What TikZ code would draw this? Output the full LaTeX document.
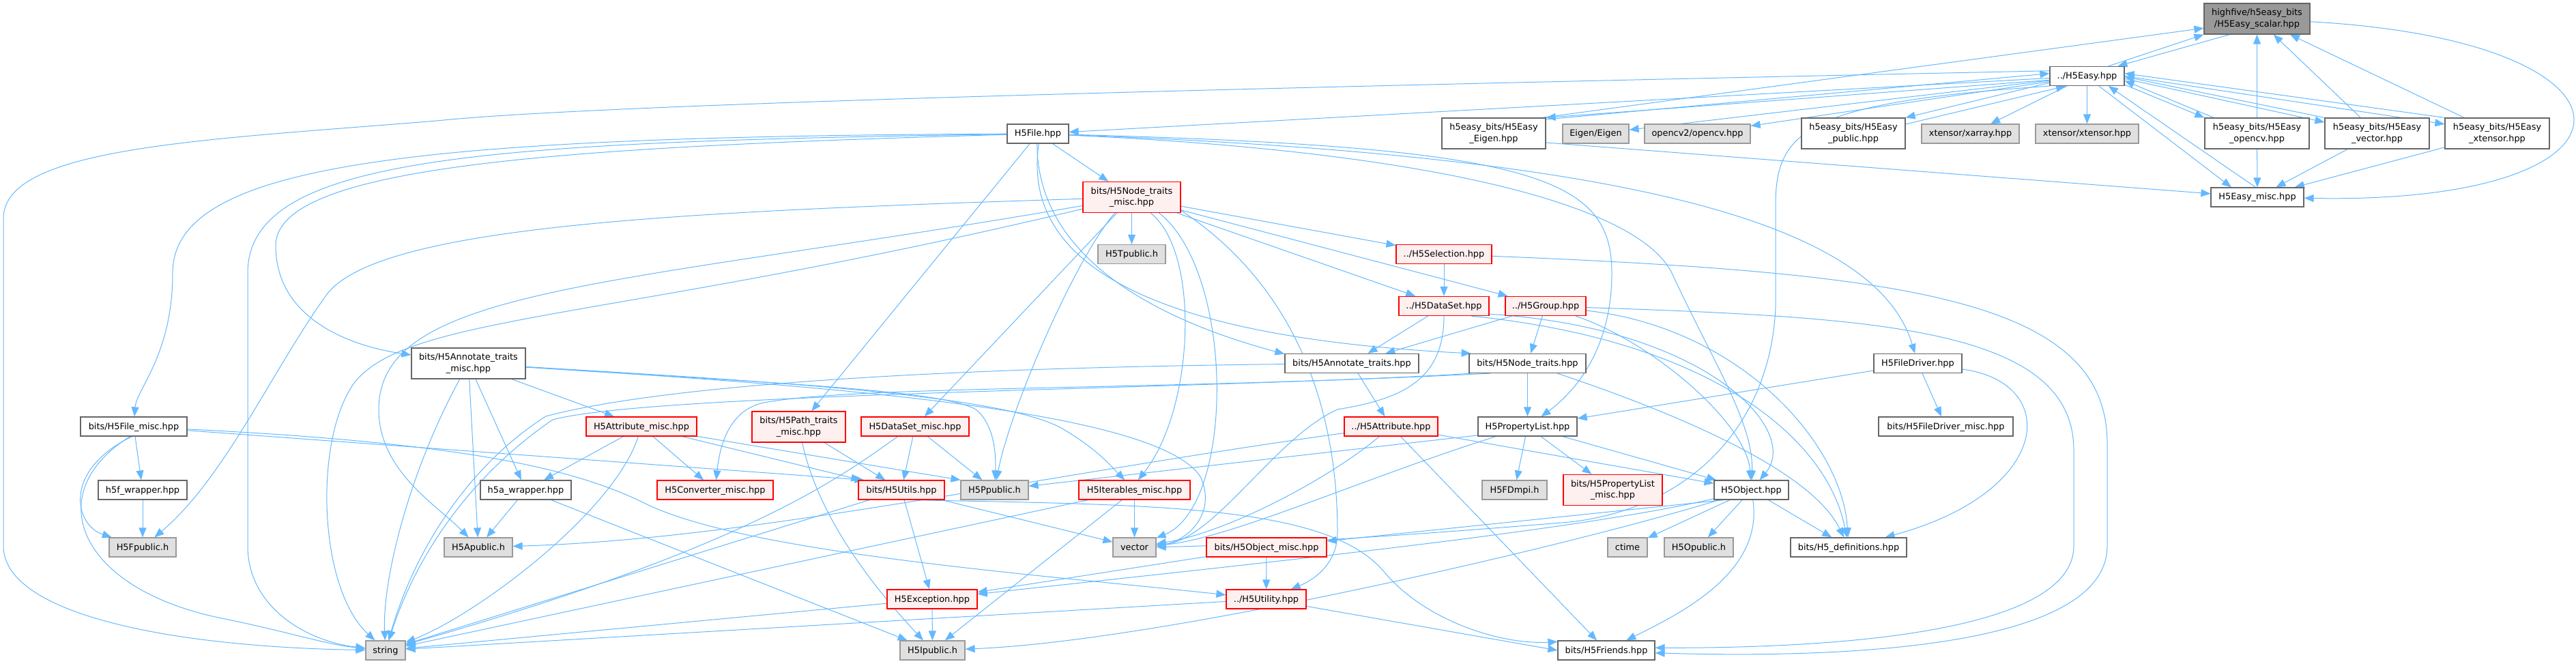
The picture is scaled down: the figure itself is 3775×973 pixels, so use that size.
\documentclass[tikz,border=0pt]{standalone}
\usepackage{fontspec}
\setmainfont{DejaVu Sans}
\usepackage{xcolor}
\usetikzlibrary{arrows.meta,backgrounds}
\definecolor{edgeblue}{HTML}{63B8FF}
\definecolor{grey40}{HTML}{666666}
\definecolor{grey60}{HTML}{999999}
\definecolor{truncfill}{HTML}{FFF0F0}
\definecolor{extfill}{HTML}{E0E0E0}

\begin{document}
\begin{tikzpicture}[x=1pt,y=-1pt,
  filebox/.style={draw=grey40,fill=white,line width=1.2pt,inner sep=0pt,minimum height=28pt,
    font=\fontsize{12.9pt}{16.7pt}\selectfont,text height=10.5pt,text depth=2.5pt},
  twoline/.style={align=center,minimum height=45pt,text height=,text depth=},
  truncbox/.style={filebox,draw=red,fill=truncfill},
  extbox/.style={filebox,draw=grey60,fill=extfill},
  rootbox/.style={filebox,draw=grey40,fill=grey60},
  wd/.style={minimum width=#1pt},
  arr/.style={draw=edgeblue,line width=1pt,-{Triangle[length=14pt,width=11pt]}}]
\useasboundingbox (0,0) rectangle (3775,973);
\node[rootbox,twoline,wd=155] (scalar) at (3307.5,27.5) {highfive/h5easy\_bits\\/H5Easy\_scalar.hpp};
\node[filebox,wd=109] (easy) at (3058.5,111.5) {../H5Easy.hpp};
\node[filebox,wd=90] (h5file) at (1521,196) {H5File.hpp};
\node[filebox,twoline,wd=152] (eigenhpp) at (2189,195.5) {h5easy\_bits/H5Easy\\\_Eigen.hpp};
\node[extbox,wd=97] (eigen) at (2338.5,196) {Eigen/Eigen};
\node[extbox,wd=155] (opencv) at (2487.5,196) {opencv2/opencv.hpp};
\node[filebox,twoline,wd=152] (public) at (2716,195.5) {h5easy\_bits/H5Easy\\\_public.hpp};
\node[extbox,wd=143] (xarray) at (2887.5,196) {xtensor/xarray.hpp};
\node[extbox,wd=151] (xtensor) at (3058.5,196) {xtensor/xtensor.hpp};
\node[filebox,twoline,wd=153] (opencvhpp) at (3307.5,195.5) {h5easy\_bits/H5Easy\\\_opencv.hpp};
\node[filebox,twoline,wd=153] (vectorhpp) at (3483.5,195.5) {h5easy\_bits/H5Easy\\\_vector.hpp};
\node[filebox,twoline,wd=153] (xtensorhpp) at (3659.5,195.5) {h5easy\_bits/H5Easy\\\_xtensor.hpp};
\node[filebox,wd=136] (misc) at (3308,289) {H5Easy\_misc.hpp};
\node[truncbox,twoline,wd=143] (nodemisc) at (1658.5,289) {bits/H5Node\_traits\\\_misc.hpp};
\node[extbox,wd=99] (tpublic) at (1658.5,372.5) {H5Tpublic.h};
\node[truncbox,wd=140] (selection) at (2116,372.5) {../H5Selection.hpp};
\node[truncbox,wd=132] (dataset) at (2116,448.5) {../H5DataSet.hpp};
\node[truncbox,wd=118] (group) at (2265,448.5) {../H5Group.hpp};
\node[filebox,twoline,wd=167] (annmisc) at (686.5,532.5) {bits/H5Annotate\_traits\\\_misc.hpp};
\node[filebox,wd=196] (anntraits) at (1981,532.5) {bits/H5Annotate\_traits.hpp};
\node[filebox,wd=171] (nodetraits) at (2238.5,532.5) {bits/H5Node\_traits.hpp};
\node[filebox,wd=129] (filedriver) at (2810.5,532.5) {H5FileDriver.hpp};
\node[filebox,wd=156] (filemisc) at (196,625) {bits/H5File\_misc.hpp};
\node[truncbox,wd=162] (attrmisc) at (940,625) {H5Attribute\_misc.hpp};
\node[truncbox,twoline,wd=137] (pathmisc) at (1170.5,625.5) {bits/H5Path\_traits\\\_misc.hpp};
\node[truncbox,wd=158] (dsmisc) at (1341,625) {H5DataSet\_misc.hpp};
\node[truncbox,wd=137] (attribute) at (2038.5,625) {../H5Attribute.hpp};
\node[filebox,wd=145] (proplist) at (2238.5,625) {H5PropertyList.hpp};
\node[filebox,wd=197] (drivermisc) at (2851.5,625) {bits/H5FileDriver\_misc.hpp};
\node[filebox,wd=130] (h5fwrap) at (209,718) {h5f\_wrapper.hpp};
\node[filebox,wd=133] (h5awrap) at (770.5,718) {h5a\_wrapper.hpp};
\node[truncbox,wd=170] (convmisc) at (1048,718) {H5Converter\_misc.hpp};
\node[truncbox,wd=126] (utils) at (1321,718) {bits/H5Utils.hpp};
\node[extbox,wd=99] (ppublic) at (1457.5,718) {H5Ppublic.h};
\node[truncbox,wd=163] (itermisc) at (1662.5,718) {H5Iterables\_misc.hpp};
\node[extbox,wd=95] (fdmpi) at (2219.5,718) {H5FDmpi.h};
\node[truncbox,twoline,wd=145] (propmisc) at (2363.5,718) {bits/H5PropertyList\\\_misc.hpp};
\node[filebox,wd=109] (object) at (2566.5,718) {H5Object.hpp};
\node[extbox,wd=98] (fpublic) at (209,802) {H5Fpublic.h};
\node[extbox,wd=100] (apublic) at (701,802) {H5Apublic.h};
\node[extbox,wd=63] (vector) at (1662.5,802) {vector};
\node[truncbox,wd=176] (objmisc) at (1856,802) {bits/H5Object\_misc.hpp};
\node[extbox,wd=58] (ctime) at (2385,802) {ctime};
\node[extbox,wd=101] (opublic) at (2489.5,802) {H5Opublic.h};
\node[filebox,wd=170] (definitions) at (2709,802) {bits/H5\_definitions.hpp};
\node[truncbox,wd=132] (exception) at (1366,878) {H5Exception.hpp};
\node[truncbox,wd=117] (utility) at (1855.5,878) {../H5Utility.hpp};
\node[extbox,wd=58] (string) at (565,953) {string};
\node[extbox,wd=95] (ipublic) at (1366.5,953) {H5Ipublic.h};
\node[filebox,wd=142] (friends) at (2354,953) {bits/H5Friends.hpp};

\begin{pgfonlayer}{background}
\draw[arr] (scalar.210) -- (easy.18);
\draw[arr] (scalar) .. controls (3900,60) and (3900,300) .. (misc);
\draw[arr] (easy.25) -- (scalar.south west);
\draw[arr] (easy.172) .. controls (2000,125) and (900,150) .. (640,177) .. controls (300,205) and (5,215) .. (5,320) -- (5,800) .. controls (5,900) and (250,948) .. (string);
\draw[arr] (easy.south west) .. controls (2650,150) and (2602,190) .. (2602,300) -- (2602,450) .. controls (2595,620) and (2480,745) .. (2300,765) .. controls (2000,790) and (1800,800) .. (vector);
\draw[arr] (easy) -- (xarray); \draw[arr] (easy) -- (xtensor);
\draw[arr] (easy) -- (eigen); \draw[arr] (easy) -- (opencv);
\draw[arr] (easy) -- (h5file);
\draw[arr] (easy.186) -- (eigenhpp.north east);
\draw[arr] (easy.-40) -- (misc.159);
\draw[arr] (easy.-13) -- (opencvhpp.north west);
\draw[arr] (easy.190) -- (public.north east);
\draw[arr] (easy.-4) -- (vectorhpp.168);
\draw[arr] (easy.0) -- (xtensorhpp.170);
\draw[arr] (eigenhpp.15) -- (easy.176);
\draw[arr] (eigenhpp.18) -- (scalar.190);
\draw[arr] (eigenhpp.-10) -- (misc);
\draw[arr] (public.10) -- (easy.205);
\draw[arr] (opencvhpp.160) -- (easy.-7);
\draw[arr] (opencvhpp) -- (scalar); \draw[arr] (opencvhpp) -- (misc);
\draw[arr] (vectorhpp.north west) -- (easy.-1);
\draw[arr] (vectorhpp) -- (scalar); \draw[arr] (vectorhpp) -- (misc);
\draw[arr] (xtensorhpp.north west) -- (easy.4);
\draw[arr] (xtensorhpp) -- (scalar); \draw[arr] (xtensorhpp) -- (misc);
\draw[arr] (misc.100) -- (easy.-25);

\draw[arr] (h5file) .. controls (600,200) and (253,240) .. (253,400) .. controls (253,520) and (200,570) .. (filemisc);
\draw[arr] (h5file) .. controls (700,208) and (363,230) .. (363,400) -- (363,800) .. controls (363,890) and (450,940) .. (string);
\draw[arr] (h5file) .. controls (800,216) and (404,245) .. (404,360) .. controls (404,460) and (500,505) .. (annmisc);
\draw[arr] (h5file) -- (nodemisc); \draw[arr] (h5file) -- (pathmisc);
\draw[arr] (h5file.-95) .. controls (1520,380) and (1700,470) .. (anntraits.172);
\draw[arr] (h5file.-85) .. controls (1490,430) and (1800,500) .. (nodetraits.170);
\draw[arr] (h5file) .. controls (2250,215) and (2362,260) .. (2362,400) .. controls (2362,520) and (2300,580) .. (proplist);
\draw[arr] (h5file) .. controls (2100,222) and (2400,300) .. (2450,400) .. controls (2510,530) and (2570,620) .. (object);
\draw[arr] (h5file) .. controls (2400,228) and (2750,330) .. (filedriver);

\draw[arr] (nodemisc) -- (tpublic); \draw[arr] (nodemisc) -- (selection);
\draw[arr] (nodemisc) -- (dataset); \draw[arr] (nodemisc) -- (group);
\draw[arr] (nodemisc) -- (dsmisc);
\draw[arr] (nodemisc.-137) .. controls (1575,380) and (1480,600) .. (ppublic);
\draw[arr] (nodemisc.-40) .. controls (1760,370) and (1750,600) .. (itermisc.70);
\draw[arr] (nodemisc.-30) .. controls (1810,400) and (1810,740) .. (vector);
\draw[arr] (nodemisc.-15) .. controls (1900,420) and (1960,600) .. (1960,780) .. controls (1960,830) and (1920,852) .. (utility);
\draw[arr] (nodemisc) .. controls (1000,310) and (560,330) .. (480,430) .. controls (400,540) and (330,700) .. (fpublic);
\draw[arr] (nodemisc) .. controls (900,420) and (555,420) .. (555,600) .. controls (555,690) and (640,740) .. (apublic);
\draw[arr] (nodemisc) .. controls (900,470) and (600,460) .. (520,560) .. controls (460,640) and (465,860) .. (string);

\draw[arr] (filemisc) -- (h5fwrap);
\draw[arr] (filemisc.-100) .. controls (90,690) and (110,770) .. (fpublic);
\draw[arr] (filemisc.-110) .. controls (60,720) and (110,860) .. (320,905) .. controls (420,925) and (480,945) .. (string);
\draw[arr] (filemisc) -- (utils.165);
\draw[arr] (filemisc) .. controls (700,650) and (850,690) .. (950,740) .. controls (1100,810) and (1500,840) .. (utility);
\draw[arr] (h5fwrap) -- (fpublic);

\draw[arr] (annmisc) .. controls (600,690) and (560,850) .. (string);
\draw[arr] (annmisc) -- (apublic); \draw[arr] (annmisc) -- (h5awrap);
\draw[arr] (annmisc) -- (attrmisc);
\draw[arr] (annmisc) .. controls (1100,560) and (1380,570) .. (1430,600) .. controls (1455,620) and (1460,660) .. (ppublic);
\draw[arr] (annmisc) .. controls (1150,560) and (1480,580) .. (1560,630) .. controls (1610,660) and (1630,685) .. (itermisc);
\draw[arr] (annmisc) .. controls (1200,565) and (1700,600) .. (1760,700) .. controls (1785,760) and (1730,795) .. (vector);

\draw[arr] (attrmisc) -- (h5awrap); \draw[arr] (attrmisc) -- (convmisc);
\draw[arr] (attrmisc) -- (utils);
\draw[arr] (attrmisc.-10) -- (ppublic.north west);
\draw[arr] (attrmisc) .. controls (900,750) and (700,900) .. (string);
\draw[arr] (pathmisc) -- (utils);
\draw[arr] (pathmisc) .. controls (1200,760) and (1280,860) .. (ipublic);
\draw[arr] (h5awrap) -- (apublic); \draw[arr] (h5awrap) -- (ipublic);
\draw[arr] (dsmisc) -- (utils); \draw[arr] (dsmisc) -- (ppublic);
\draw[arr] (dsmisc.-150) .. controls (1230,700) and (1100,800) .. (string);

\draw[arr] (utils) -- (exception); \draw[arr] (utils) -- (string);
\draw[arr] (utils) -- (vector);
\draw[arr] (utils.-40) .. controls (1700,740) and (1950,740) .. (2030,840) .. controls (2090,910) and (2200,945) .. (friends.170);
\draw[arr] (itermisc) -- (vector); \draw[arr] (itermisc) -- (ipublic);
\draw[arr] (itermisc) -- (string);
\draw[arr] (exception) -- (ipublic); \draw[arr] (exception) -- (string);
\draw[arr] (utility) -- (string); \draw[arr] (utility) -- (friends.west);
\draw[arr] (objmisc) -- (exception); \draw[arr] (objmisc) -- (utility);

\draw[arr] (anntraits) -- (attribute);
\draw[arr] (anntraits) .. controls (1300,540) and (950,570) .. (800,610) .. controls (690,680) and (610,800) .. (string);
\draw[arr] (nodetraits) -- (proplist);
\draw[arr] (nodetraits) .. controls (2500,620) and (2660,700) .. (definitions);
\draw[arr] (nodetraits.190) .. controls (1800,570) and (960,575) .. (810,615) .. controls (700,690) and (615,800) .. (string);
\draw[arr] (nodetraits.195) .. controls (1700,572) and (1250,565) .. (1120,590) .. controls (1070,600) and (1055,650) .. (convmisc);

\draw[arr] (attribute) .. controls (1500,700) and (1100,790) .. (apublic);
\draw[arr] (attribute) .. controls (1950,700) and (1800,780) .. (vector);
\draw[arr] (attribute) -- (friends); \draw[arr] (attribute) -- (object);
\draw[arr] (proplist) -- (fdmpi); \draw[arr] (proplist) -- (propmisc);
\draw[arr] (proplist) -- (object);
\draw[arr] (proplist.190) -- (ppublic);
\draw[arr] (proplist) .. controls (2000,700) and (1800,790) .. (vector);
\draw[arr] (filedriver) -- (proplist); \draw[arr] (filedriver) -- (drivermisc);
\draw[arr] (filedriver) .. controls (3020,560) and (3010,720) .. (definitions);

\draw[arr] (object) -- (ctime); \draw[arr] (object) -- (opublic);
\draw[arr] (object) -- (definitions);
\draw[arr] (object) .. controls (2585,840) and (2460,900) .. (friends);
\draw[arr] (object.200) -- (objmisc);
\draw[arr] (object) .. controls (2300,800) and (1700,940) .. (ipublic);
\draw[arr] (object) .. controls (2300,780) and (1800,830) .. (exception);

\draw[arr] (selection) -- (dataset);
\draw[arr] (selection) .. controls (2800,400) and (3088,440) .. (3088,650) -- (3088,800) .. controls (3088,950) and (2700,965) .. (friends.-3);
\draw[arr] (group) .. controls (2750,465) and (3039,480) .. (3039,660) -- (3039,800) .. controls (3039,925) and (2700,950) .. (friends.3);
\draw[arr] (dataset) -- (anntraits);
\draw[arr] (dataset) .. controls (2116,560) and (2050,585) .. (1960,600) .. controls (1870,640) and (1780,790) .. (vector);
\draw[arr] (dataset.-10) .. controls (2500,480) and (2640,630) .. (object);
\draw[arr] (dataset.-20) .. controls (2520,500) and (2680,650) .. (definitions);
\draw[arr] (group) -- (anntraits); \draw[arr] (group) -- (nodetraits);
\draw[arr] (group) .. controls (2420,500) and (2560,620) .. (object);
\draw[arr] (group) .. controls (2550,480) and (2700,650) .. (definitions);
\end{pgfonlayer}
\end{tikzpicture}
\end{document}
